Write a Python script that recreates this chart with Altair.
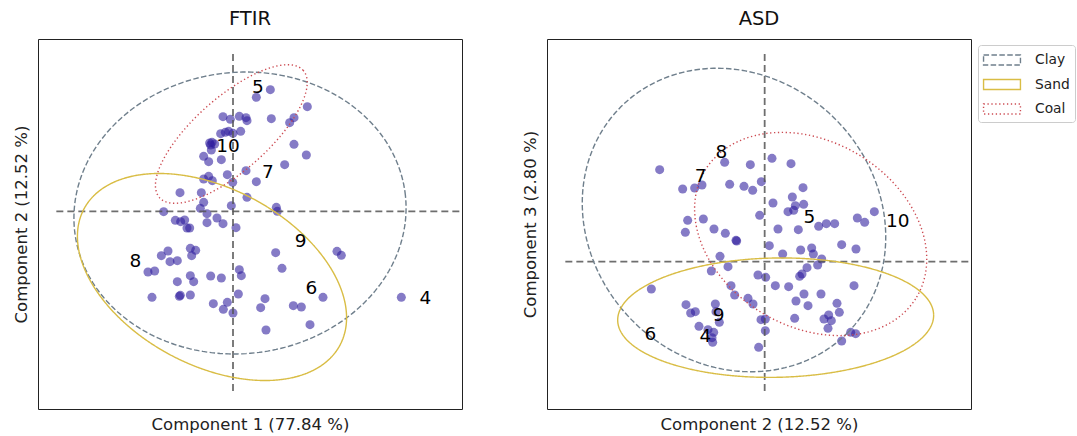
import altair as alt
import numpy as np
import pandas as pd

FONT = "DejaVu Sans"

# ---------------- FTIR panel (PC1 vs PC2) ----------------
ftir_x = [1.12, 0.70, 2.23, -0.30, -0.08, 0.19, 0.39, 0.42, 1.15, 1.83, 1.70, -0.37, -0.23, -0.13, 0.00,
          0.23, -0.63, -0.67, -0.55, -0.65, -0.70, -0.88, -0.73, -0.35, 1.83, 2.20, 1.55, 0.39, -0.17, 0.70,
          -0.88, -0.73, -0.62, -0.01, -1.59, -0.95, 0.42, -0.88, -0.98, -0.05, -2.08, -0.78, 1.30, 1.33,
          -1.73, -1.57, -1.45, -1.38, -1.30, -0.78, -0.48, -0.30, 0.09, -1.28, -1.12, -1.24, -1.95, -2.15,
          -1.89, -1.67, 1.28, 3.12, 3.25, -2.55, -2.35, 0.19, 0.25, 1.47, -1.28, -1.18, -1.67, -0.67, -0.35,
          -2.43, -1.58, -1.61, -1.28, 0.16, -0.59, -0.17, -0.29, 0.00, 0.96, 0.83, 1.81, 2.05, 2.70, 2.31,
          0.99, 5.05]
ftir_y = [3.65, 3.42, 3.14, 2.84, 2.76, 2.85, 2.81, 2.72, 2.78, 2.81, 2.66, 2.33, 2.37, 2.40, 2.34,
          2.40, 2.07, 1.99, 2.02, 1.84, 2.05, 1.65, 1.49, 1.55, 2.01, 1.69, 1.40, 1.22, 1.10, 0.89,
          0.97, 1.05, 0.92, 0.87, 0.56, 0.56, 0.42, 0.27, 0.09, 0.17, -0.01, -0.07, 0.12, 0.00,
          -0.27, -0.31, -0.26, -0.50, -0.50, -0.34, -0.20, -0.37, -0.49, -1.11, -1.17, -1.33, -1.19, -1.33,
          -1.51, -1.48, -1.24, -1.20, -1.32, -1.82, -1.79, -1.75, -1.93, -1.71, -1.93, -2.11, -2.11, -1.94, -2.00,
          -2.58, -2.52, -2.55, -2.51, -2.48, -2.77, -2.73, -2.94, -3.05, -2.62, -2.89, -2.83, -2.87, -2.58, -3.40,
          -3.56, -2.58]
ftir_lab = ["5", "10", "7", "9", "8", "6", "4"]
ftir_lab_x = [0.75, -0.15, 1.05, 2.03, -2.93, 2.35, 5.77]
ftir_lab_y = [3.74, 1.95, 1.19, -0.90, -1.50, -2.29, -2.59]

# ellipse parameters: centre x, centre y, semi-axis a, semi-axis b, angle (deg)
ftir_ell = {
    "Clay": [0.21, -0.05, 4.99, 4.22, 6],
    "Sand": [-0.63, -1.97, 4.35, 2.65, -28],
    "Coal": [-0.05, 2.32, 2.88, 1.10, 41.5],
}
ftir_xdom = [-5.85, 6.87]
ftir_ydom = [-5.93, 5.17]
ftir_vline = [4.72, -5.43]     # y extent of the vertical zero line
ftir_hline = [-5.30, 7.50]     # x extent of the horizontal zero line

# ---------------- ASD panel (PC2 vs PC3) ----------------
asd_x = [-3.15, -2.46, -2.10, -1.88, -1.20, -0.43, 0.22, 0.79, -1.05, -0.62, -0.36, -0.10, 1.15, 0.83,
         0.92, 1.17, 0.70, 0.87, 0.25, -0.15, -2.31, -1.84, -2.38, -1.52, -1.18, -0.86, -0.84, 0.40, 1.01,
         1.62, 1.85, 2.10, 2.78, 3.00, 3.29, 0.14, 0.54, 1.08, 1.41, 1.46, 1.71, 1.59, 2.31, 2.74, -1.34,
         -1.10, -1.60, -0.20, 0.03, 0.32, 0.72, 1.27, 1.12, 1.05, -1.01, -0.90, -0.50, -0.35, -3.40, 1.18,
         1.69, 0.94, 1.30, 2.68, 2.17, 2.24, -2.36, -2.22, -2.08, -1.48, -1.46, -1.36, -1.97, -1.70, -1.53,
         -1.56, -1.58, -0.11, 0.02, 0.02, -0.18, 0.90, 1.78, 1.92, 2.00, 1.90, 2.58, 2.73, 2.31]
asd_y = [2.76, 2.18, 2.21, 2.30, 2.98, 2.91, 3.10, 2.94, 2.32, 2.26, 2.14, 2.40, 2.22, 1.94,
         1.68, 1.72, 1.50, 1.54, 1.76, 1.39, 1.24, 1.28, 0.88, 0.98, 0.85, 0.64, 0.62, 0.98, 0.96,
         1.06, 1.14, 1.14, 1.31, 1.18, 1.50, 0.48, 0.23, 0.35, 0.41, 0.23, 0.08, -0.10, 0.51, 0.38, 0.16,
         -0.15, -0.28, -0.40, -0.47, -0.72, -0.75, -0.18, -0.37, -0.44, -0.72, -1.00, -1.10, -1.27, -0.82, -0.97,
         -0.97, -1.18, -1.32, -0.72, -1.25, -1.52, -1.29, -1.54, -1.50, -1.27, -1.50, -1.82, -1.94, -2.04, -2.12,
         -2.42, -2.28, -1.74, -1.72, -2.07, -2.57, -1.70, -1.72, -1.60, -1.77, -2.00, -2.12, -2.16, -2.38]
asd_lab = ["8", "7", "5", "10", "9", "6", "4"]
asd_lab_x = [-1.30, -1.92, 1.34, 3.99, -1.38, -3.43, -1.78]
asd_lab_y = [3.28, 2.56, 1.35, 1.23, -1.60, -2.17, -2.22]

asd_ell = {
    "Clay": [-0.92, 1.25, 4.80, 4.29, -45],
    "Sand": [0.33, -1.68, 4.74, 1.79, 1],
    "Coal": [1.38, 0.83, 3.70, 2.78, -30.8],
}
asd_xdom = [-6.53, 6.19]
asd_ydom = [-4.42, 6.68]
asd_vline = [6.23, -3.92]
asd_hline = [-5.98, 7.00]

soil_types = ["Clay", "Sand", "Coal"]
soil_colors = ["#6f7f8c", "#d9bd45", "#cc4b52"]
soil_dashes = [[5.5, 2.4], [1, 0], [1.3, 2.6]]


def ellipse_frame(params):
    rows = []
    t = np.linspace(0, 2 * np.pi, 241)
    for name in soil_types:
        cx, cy, a, b, ang = params[name]
        th = np.radians(ang)
        ex = cx + a * np.cos(t) * np.cos(th) - b * np.sin(t) * np.sin(th)
        ey = cy + a * np.cos(t) * np.sin(th) + b * np.sin(t) * np.cos(th)
        for i, (u, v) in enumerate(zip(ex, ey)):
            rows.append({"type": name, "i": i, "x": u, "y": v})
    return pd.DataFrame(rows)


def panel(px, py, labs, lx, ly, ell, xdom, ydom, vline, hline, title, xtitle, ytitle, w, h):
    X = alt.X("x:Q", scale=alt.Scale(domain=xdom, nice=False, zero=False),
              axis=alt.Axis(title=xtitle, labels=False, ticks=False, grid=False, domain=False,
                            titleFont=FONT, titleFontSize=16.5, titleFontWeight="normal",
                            titleColor="#222", titlePadding=7))
    Y = alt.Y("y:Q", scale=alt.Scale(domain=ydom, nice=False, zero=False),
              axis=alt.Axis(title=ytitle, labels=False, ticks=False, grid=False, domain=False,
                            titleFont=FONT, titleFontSize=16.5, titleFontWeight="normal",
                            titleColor="#222", titlePadding=9))

    pts = alt.Chart(pd.DataFrame({"x": px, "y": py})).mark_circle(
        size=82, opacity=0.58, color="#2d1b9c").encode(x=X, y=Y)

    vdf = pd.DataFrame({"x": [0.0], "y": [vline[0]], "y2": [vline[1]]})
    vrule = alt.Chart(vdf).mark_rule(color="#555", strokeWidth=1.8, strokeDash=[7, 4],
                                     opacity=0.85, clip=True).encode(x=X, y=Y, y2="y2:Q")
    hdf = pd.DataFrame({"y": [0.0], "x": [hline[0]], "x2": [hline[1]]})
    hrule = alt.Chart(hdf).mark_rule(color="#555", strokeWidth=1.8, strokeDash=[7, 4],
                                     opacity=0.85, clip=True).encode(y=Y, x=X, x2="x2:Q")

    legend = alt.Legend(title=None, orient="none", legendX=940, legendY=6,
                        symbolType="M-2.05,-0.55H2.05V0.55H-2.05Z", symbolSize=324,
                        symbolOffset=9, labelOffset=23,
                        symbolStrokeWidth=1.4, symbolFillColor="transparent",
                        labelFont=FONT, labelFontSize=13.8, labelColor="#222",
                        rowPadding=6.5, padding=5,
                        strokeColor="#cccccc", fillColor="white", cornerRadius=3)
    ells = alt.Chart(ellipse_frame(ell)).mark_line(strokeWidth=1.4, clip=True).encode(
        x=X, y=Y,
        color=alt.Color("type:N", scale=alt.Scale(domain=soil_types, range=soil_colors), legend=legend),
        strokeDash=alt.StrokeDash("type:N", scale=alt.Scale(domain=soil_types, range=soil_dashes),
                                  legend=legend),
        order="i:Q",
    )

    txt = alt.Chart(pd.DataFrame({"x": lx, "y": ly, "lab": labs})).mark_text(
        font=FONT, fontSize=18.5, color="black").encode(x=X, y=Y, text="lab:N")

    return alt.layer(pts, vrule, hrule, ells, txt).properties(
        width=w, height=h,
        title=alt.Title(title, font=FONT, fontSize=19.5, fontWeight="normal", color="#111", offset=10),
    )


p1 = panel(ftir_x, ftir_y, ftir_lab, ftir_lab_x, ftir_lab_y, ftir_ell, ftir_xdom, ftir_ydom,
           ftir_vline, ftir_hline, "FTIR", "Component 1 (77.84 %)", "Component 2 (12.52 %)", 424, 370)
p2 = panel(asd_x, asd_y, asd_lab, asd_lab_x, asd_lab_y, asd_ell, asd_xdom, asd_ydom,
           asd_vline, asd_hline, "ASD", "Component 2 (12.52 %)", "Component 3 (2.80 %)", 424, 370)

chart = alt.hconcat(p1, p2, spacing=58).properties(
    padding={"left": 12, "top": 8, "right": 0, "bottom": 0},
    background="white",
).configure_view(stroke="#222", strokeWidth=1)

chart.save("out.html", embed_options={"renderer": "svg", "actions": False})
